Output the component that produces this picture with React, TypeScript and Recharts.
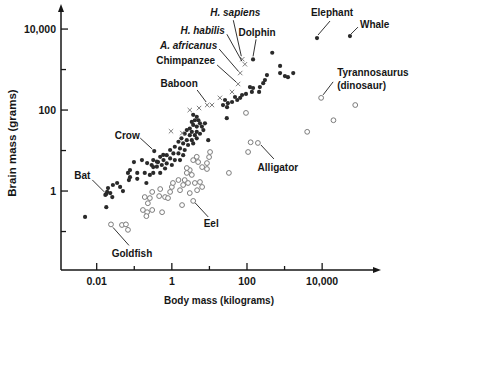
import { Scatter, ScatterChart, XAxis, YAxis } from 'recharts';

// [body mass kg, brain mass g]
type Pt = [number, number];

const birdsAndMammals: Pt[] = [
  [0.0049, 0.23], [0.018, 0.4], [0.017, 0.8], [0.019, 0.95], [0.018, 0.85], [0.023, 0.89],
  [0.026, 0.71], [0.02, 1.18], [0.027, 1.41], [0.035, 1.58], [0.042, 1.26], [0.05, 1.0],
  [0.072, 1.87], [0.077, 2.2], [0.068, 2.8], [0.077, 3.3], [0.098, 5.2], [0.12, 2.8],
  [0.12, 2.0], [0.16, 5.8], [0.19, 2.8], [0.21, 1.58], [0.22, 4.9], [0.26, 2.5],
  [0.32, 3.9], [0.32, 2.8], [0.43, 5.2], [0.34, 9.7], [0.59, 7.8], [0.49, 2.8],
  [3.7, 76], [4.6, 68], [4.1, 56], [3.4, 51], [5.1, 56], [5.6, 47], [3.7, 43], [4.6, 39],
  [6.3, 39], [3.0, 35], [2.5, 32], [3.4, 29], [4.6, 29], [6.9, 32], [2.2, 26], [3.0, 24],
  [4.1, 24], [5.6, 26], [1.8, 20], [2.5, 18], [3.4, 18], [4.6, 20], [1.5, 16.5], [2.0, 15],
  [2.7, 13.7], [3.7, 15], [1.2, 12.4], [1.65, 11.3], [2.2, 10.3], [0.9, 10.3], [1.1, 8.5],
  [1.5, 8.5], [2.0, 7.7], [0.73, 7.7], [0.9, 6.4], [1.2, 5.8], [1.65, 5.8], [0.6, 5.8],
  [0.49, 7.0], [0.4, 5.3], [0.54, 4.4], [0.73, 4.8], [1.0, 4.4], [0.32, 5.8], [0.29, 4.4],
  [0.4, 4.0], [0.66, 3.6], [9.3, 18], [7.6, 47],
  [470, 2600], [760, 1230], [760, 820], [1020, 690], [1230, 650], [1700, 820], [340, 730],
  [300, 550], [270, 460], [220, 370], [210, 280], [145, 350], [135, 280], [120, 370],
  [94, 250], [74, 235], [66, 200], [55, 177], [48, 210], [40, 158], [31, 148], [23, 133],
  [29.5, 118], [26, 177], [29, 63], [145, 1780], [7300, 6000], [55000, 6700],
];

const primates: Pt[] = [
  [75, 1800], [88, 1350], [66, 820], [58, 440], [40, 280], [19, 200], [8.7, 133],
  [11.7, 133], [0.95, 30], [1.9, 27], [3.0, 100], [5.3, 112],
];

const fishAndReptiles: Pt[] = [
  [9400, 200], [76000, 133], [20000, 56], [4000, 29], [94, 85], [125, 16], [195, 15.4],
  [107, 9.2], [33, 2.8], [10.4, 9.2], [9.8, 6.9], [8.6, 4.9], [5.0, 5.2], [6.4, 3.9],
  [8.6, 3.5], [3.0, 3.3], [2.5, 2.8], [3.4, 2.5], [2.2, 1.87], [2.7, 1.58], [4.1, 1.58],
  [5.6, 1.67], [6.4, 1.26], [4.7, 1.05], [2.0, 1.41], [1.5, 1.87], [1.65, 1.05], [3.0, 0.89],
  [3.7, 0.57], [1.87, 0.45], [1.0, 1.26], [0.9, 0.95], [0.66, 0.71], [0.79, 0.67],
  [0.49, 1.12], [0.46, 0.75], [0.3, 0.95], [0.26, 0.67], [0.19, 0.71], [0.23, 0.5],
  [0.17, 0.34], [0.22, 0.3], [0.3, 0.34], [0.21, 0.24], [0.55, 0.3], [1.07, 1.58],
  [2.5, 3.7], [3.7, 5.8], [4.6, 7.0],
  [0.024, 0.15], [0.047, 0.145], [0.06, 0.15], [0.068, 0.11],
];

const annotations = [
  { name: 'H. sapiens', x: 75, y: 1800 },
  { name: 'H. habilis', x: 88, y: 1350 },
  { name: 'A. africanus', x: 66, y: 820 },
  { name: 'Chimpanzee', x: 58, y: 440 },
  { name: 'Baboon', x: 8.7, y: 133 },
  { name: 'Dolphin', x: 145, y: 1780 },
  { name: 'Elephant', x: 7300, y: 6000 },
  { name: 'Whale', x: 55000, y: 6700 },
  { name: 'Tyrannosaurus', x: 9400, y: 200 },
  { name: 'Alligator', x: 195, y: 15.4 },
  { name: 'Eel', x: 3.7, y: 0.57 },
  { name: 'Goldfish', x: 0.024, y: 0.15 },
  { name: 'Crow', x: 0.34, y: 9.7 },
  { name: 'Bat', x: 0.018, y: 0.85 },
];

const xTicks = [0.01, 0.1, 1, 10, 100, 1000, 10000];
const yTicks = [0.1, 1, 10, 100, 1000, 10000];
const tickLabels: Record<string, string> = { '0.01': '0.01', '1': '1', '100': '100', '10000': '10,000' };

type Layout = {
  tx: number;
  ty: number;
  anchor: 'start' | 'middle' | 'end';
  line: [number, number, number, number];
  italic?: boolean;
  lines?: string[];
};

// label offsets from the point, in px
const labelLayout: Record<string, Layout> = {
  'H. sapiens': { tx: -7, ty: -47, anchor: 'middle', italic: true, line: [-9, -39, -1, -3] },
  'H. habilis': { tx: -20, ty: -34, anchor: 'end', italic: true, line: [-18, -30, -3, -3] },
  'A. africanus': { tx: -23, ty: -28, anchor: 'end', italic: true, line: [-21, -24, -2, -2] },
  Chimpanzee: { tx: -23, ty: -23, anchor: 'end', line: [-21, -19, -2, -2] },
  Baboon: { tx: -28, ty: -22, anchor: 'middle', line: [-10, -15, -1, -3] },
  Dolphin: { tx: 4, ty: -27, anchor: 'middle', line: [3, -20, 0, -3] },
  Elephant: { tx: 15, ty: -26, anchor: 'middle', line: [13, -17, 1, -3] },
  Whale: { tx: 10, ty: -12, anchor: 'start', line: [8, -9, 1, -2] },
  Tyrannosaurus: { tx: 16, ty: -25, anchor: 'start', line: [12, -16, 2, -3], lines: ['Tyrannosaurus', '(dinosaur)'] },
  Alligator: { tx: 20, ty: 25, anchor: 'middle', line: [3, 2, 16, 16] },
  Eel: { tx: 18, ty: 23, anchor: 'middle', line: [2, 2, 15, 16] },
  Goldfish: { tx: 21, ty: 29, anchor: 'middle', line: [2, 3, 18, 21] },
  Crow: { tx: -27, ty: -16, anchor: 'middle', line: [-14, -13, -2, -2] },
  Bat: { tx: -24, ty: -18, anchor: 'middle', line: [-14, -14, -2, -2] },
};

const FONT = '"Liberation Sans", Arial, sans-serif';
const INK = '#161616';

const rows = (pts: Pt[]) => pts.map(([x, y]) => ({ x, y }));

const Dot = (p: any) => <circle cx={p.cx} cy={p.cy} r={2.1} fill="#2a2a2a" />;
const Ring = (p: any) => (
  <circle cx={p.cx} cy={p.cy} r={2.4} fill="#fff" stroke="#7c7c7c" strokeWidth={1} />
);
const Cross = (p: any) => {
  const s = 2.2;
  return (
    <g stroke="#7e7e7e" strokeWidth={1}>
      <line x1={p.cx - s} y1={p.cy - s} x2={p.cx + s} y2={p.cy + s} />
      <line x1={p.cx - s} y1={p.cy + s} x2={p.cx + s} y2={p.cy - s} />
    </g>
  );
};

const Callout = (p: any) => {
  const a = labelLayout[p.payload.name];
  const { cx, cy } = p;
  const [x1, y1, x2, y2] = a.line;
  const lines = a.lines ?? [p.payload.name];
  return (
    <g>
      <line x1={cx + x1} y1={cy + y1} x2={cx + x2} y2={cy + y2} stroke="#333" strokeWidth={1} />
      {lines.map((t, i) => (
        <text
          key={t}
          x={cx + a.tx}
          y={cy + a.ty + i * 13}
          dy="0.35em"
          textAnchor={a.anchor}
          fontFamily={FONT}
          fontSize={10}
          fontWeight="bold"
          fontStyle={a.italic ? 'italic' : 'normal'}
          fill={INK}
        >
          {t}
        </text>
      ))}
    </g>
  );
};

const XTick = (p: any) => {
  const label = tickLabels[String(p.payload.value)];
  const len = label ? 7 : 4;
  return (
    <g>
      <line x1={p.x} y1={p.y} x2={p.x} y2={p.y - len} stroke={INK} strokeWidth={1.3} />
      {label && (
        <text x={p.x} y={p.y + 11} dy="0.35em" textAnchor="middle" fontFamily={FONT} fontSize={10.5} fontWeight="bold" fill={INK}>
          {label}
        </text>
      )}
    </g>
  );
};

const YTick = (p: any) => {
  const label = tickLabels[String(p.payload.value)];
  const len = label ? 7 : 5;
  return (
    <g>
      <line x1={p.x} y1={p.y} x2={p.x + len} y2={p.y} stroke={INK} strokeWidth={1.3} />
      {label && (
        <text x={p.x - 5} y={p.y} dy="0.35em" textAnchor="end" fontFamily={FONT} fontSize={10.5} fontWeight="bold" fill={INK}>
          {label}
        </text>
      )}
    </g>
  );
};

const XTitle = (p: any) => {
  const vb = p.viewBox;
  return (
    <text x={vb.x + vb.width / 2} y={vb.y + 30} dy="0.35em" textAnchor="middle" fontFamily={FONT} fontSize={10} fontWeight="bold" fill={INK}>
      Body mass (kilograms)
    </text>
  );
};

const YTitle = (p: any) => {
  const vb = p.viewBox;
  const cx = vb.x + 12;
  const cy = vb.y + vb.height / 2 + 4;
  return (
    <text x={cx} y={cy} dy="0.35em" textAnchor="middle" transform={`rotate(-90 ${cx} ${cy})`} fontFamily={FONT} fontSize={11.5} fontWeight="bold" fill={INK}>
      Brain mass (grams)
    </text>
  );
};

export default function App() {
  return (
    <div style={{ position: 'absolute', left: 0, top: 0, width: 500, height: 376, background: '#fff' }}>
      <ScatterChart width={500} height={376} margin={{ top: 8, right: 123, bottom: 66, left: 0 }}>
        <defs>
          <marker id="arrowHead" viewBox="0 0 8 6" refX="4" refY="3" markerWidth="8" markerHeight="6" markerUnits="userSpaceOnUse" orient="auto-start-reverse">
            <path d="M0,0 L8,3 L0,6 z" fill={INK} />
          </marker>
        </defs>
        <XAxis
          type="number"
          dataKey="x"
          scale="log"
          domain={[Math.pow(10, -2.95), Math.pow(10, 5.46)]}
          ticks={xTicks}
          interval={0}
          tick={<XTick />}
          tickLine={false}
          tickSize={0}
          tickMargin={0}
          height={40}
          axisLine={{ stroke: INK, strokeWidth: 1.5, markerEnd: 'url(#arrowHead)' }}
          label={<XTitle />}
        />
        <YAxis
          type="number"
          dataKey="y"
          scale="log"
          domain={[Math.pow(10, -1.95), Math.pow(10, 4.52)]}
          ticks={yTicks}
          interval={0}
          tick={<YTick />}
          tickLine={false}
          tickSize={0}
          tickMargin={0}
          width={61}
          axisLine={{ stroke: INK, strokeWidth: 1.5, markerStart: 'url(#arrowHead)' }}
          label={<YTitle />}
        />
        <Scatter data={rows(fishAndReptiles)} shape={<Ring />} isAnimationActive={false} />
        <Scatter data={rows(birdsAndMammals)} shape={<Dot />} isAnimationActive={false} />
        <Scatter data={rows(primates)} shape={<Cross />} isAnimationActive={false} />
        <Scatter data={annotations} shape={<Callout />} isAnimationActive={false} />
      </ScatterChart>
    </div>
  );
}
